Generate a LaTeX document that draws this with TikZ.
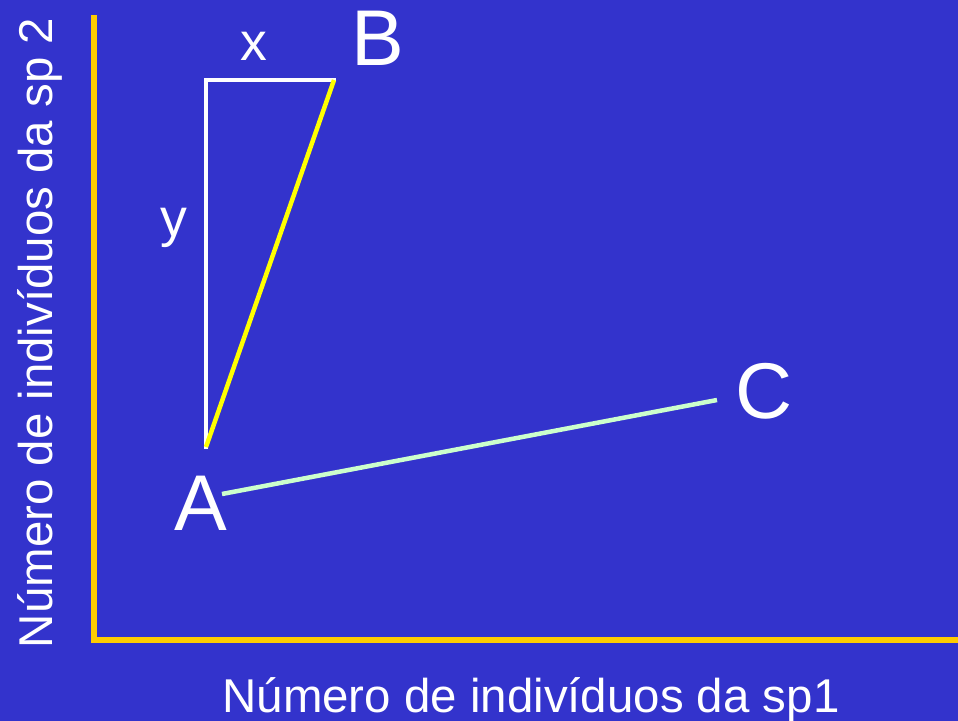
\documentclass[tikz,border=0pt]{standalone}
\usepackage{fontspec}
\setmainfont{Liberation Sans}
\usepackage{xcolor}
\usepackage{tikz}
\usetikzlibrary{positioning}
\definecolor{slideblue}{HTML}{3333CC}
\definecolor{axisgold}{HTML}{FFCC00}
\definecolor{pathyellow}{HTML}{FFFF00}
\definecolor{pathgreen}{HTML}{CCFFCC}
\tikzset{
    plot axis/.style={draw=axisgold, line width=0.12cm},
    leg line/.style={draw=white, line width=0.08cm},
    point label/.style={text=white, anchor=base, inner sep=0pt, font=\fontsize{45}{50}\selectfont},
    leg label/.style={text=white, anchor=base, inner sep=0pt, font=\fontsize{30.5}{34}\selectfont},
    axis label/.style={text=white, anchor=base, inner sep=0pt, font=\fontsize{27}{31}\selectfont},
}

\begin{document}
\begin{tikzpicture}[x=0.02cm, y=-0.02cm]
    \fill[slideblue] (0,0) rectangle (958,721);
    \useasboundingbox (0,0) rectangle (958,721);

    % axes
    \coordinate (origin) at (94,640);
    \coordinate (ytop) at (94,15);
    \coordinate (xend) at (958,640);
    \draw[plot axis] (ytop) -- (origin) -- (xend);

    \node[axis label] (xlab) at (531,712) {Número de indivíduos da sp1};
    \node[axis label, rotate=90] (ylab) at (52,333) {Número de indivíduos da sp 2};

    % triangle A-B
    \coordinate (a) at (206,447);
    \coordinate (corner) at (206,80);
    \coordinate (b) at (334,80);
    \draw[leg line, line cap=rect] (a) -- (corner) -- (b);
    \draw[draw=pathyellow, line width=0.09cm] (b) -- (a);

    \node[leg label] (xleg) at (254,60) {x};
    \node[leg label] (yleg) at (174,236) {y};

    % points
    \node[point label] (A) at (201,530) {A};
    \node[point label] (B) at (378,65) {B};
    \node[point label] (C) at (764,418) {C};

    \coordinate (astart) at (222,494);
    \coordinate (cend) at (717,400);
    \draw[draw=pathgreen, line width=0.09cm] (astart) -- (cend);
\end{tikzpicture}
\end{document}
